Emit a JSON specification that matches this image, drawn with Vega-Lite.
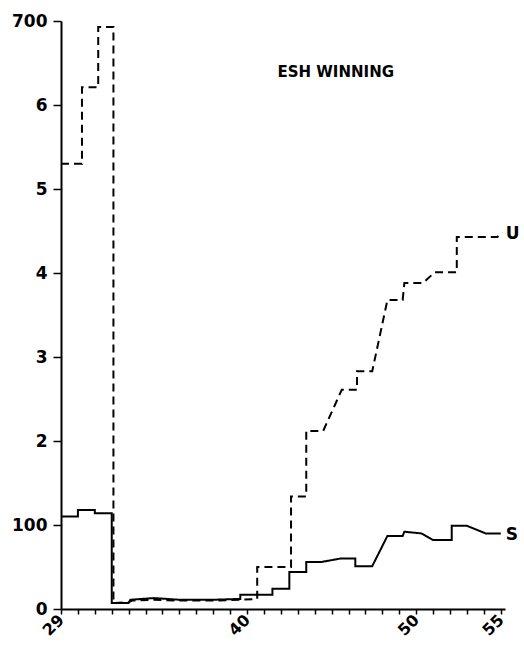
{
  "$schema": "https://vega.github.io/schema/vega-lite/v6.json",
  "width": 444,
  "height": 588,
  "autosize": {"type": "none"},
  "padding": {"left": 61, "top": 21, "right": 19, "bottom": 39},
  "background": "white",
  "config": {"view": {"stroke": null}},
  "datasets": {
    "lines": [
      {"s": "S", "o": 1, "x": 29, "y": 110},
      {"s": "S", "o": 2, "x": 30, "y": 110},
      {"s": "S", "o": 3, "x": 30, "y": 118},
      {"s": "S", "o": 4, "x": 31, "y": 118},
      {"s": "S", "o": 5, "x": 31, "y": 114},
      {"s": "S", "o": 6, "x": 32, "y": 114},
      {"s": "S", "o": 7, "x": 32, "y": 7},
      {"s": "S", "o": 8, "x": 33, "y": 7},
      {"s": "S", "o": 9, "x": 33.1, "y": 11},
      {"s": "S", "o": 10, "x": 34.5, "y": 13},
      {"s": "S", "o": 11, "x": 36, "y": 11},
      {"s": "S", "o": 12, "x": 38, "y": 11},
      {"s": "S", "o": 13, "x": 39.6, "y": 12},
      {"s": "S", "o": 14, "x": 39.6, "y": 17},
      {"s": "S", "o": 15, "x": 41.5, "y": 17},
      {"s": "S", "o": 16, "x": 41.5, "y": 24},
      {"s": "S", "o": 17, "x": 42.5, "y": 24},
      {"s": "S", "o": 18, "x": 42.5, "y": 44},
      {"s": "S", "o": 19, "x": 43.5, "y": 44},
      {"s": "S", "o": 20, "x": 43.5, "y": 56},
      {"s": "S", "o": 21, "x": 44.4, "y": 56},
      {"s": "S", "o": 22, "x": 45.5, "y": 60},
      {"s": "S", "o": 23, "x": 46.4, "y": 60},
      {"s": "S", "o": 24, "x": 46.4, "y": 51},
      {"s": "S", "o": 25, "x": 47.4, "y": 51},
      {"s": "S", "o": 26, "x": 48.3, "y": 87},
      {"s": "S", "o": 27, "x": 49.2, "y": 87},
      {"s": "S", "o": 28, "x": 49.3, "y": 92},
      {"s": "S", "o": 29, "x": 50.3, "y": 90},
      {"s": "S", "o": 30, "x": 51, "y": 82},
      {"s": "S", "o": 31, "x": 52.1, "y": 82},
      {"s": "S", "o": 32, "x": 52.1, "y": 99},
      {"s": "S", "o": 33, "x": 53, "y": 99},
      {"s": "S", "o": 34, "x": 54.1, "y": 90},
      {"s": "S", "o": 35, "x": 55, "y": 90},
      {"s": "U", "o": 1, "x": 29, "y": 530},
      {"s": "U", "o": 2, "x": 30.24, "y": 530},
      {"s": "U", "o": 3, "x": 30.24, "y": 621},
      {"s": "U", "o": 4, "x": 31.2, "y": 621},
      {"s": "U", "o": 5, "x": 31.2, "y": 693},
      {"s": "U", "o": 6, "x": 32.1, "y": 693},
      {"s": "U", "o": 7, "x": 32.1, "y": 7},
      {"s": "U", "o": 8, "x": 33, "y": 8},
      {"s": "U", "o": 9, "x": 33.2, "y": 10},
      {"s": "U", "o": 10, "x": 34.5, "y": 11},
      {"s": "U", "o": 11, "x": 36, "y": 10},
      {"s": "U", "o": 12, "x": 38, "y": 10},
      {"s": "U", "o": 13, "x": 39.6, "y": 11},
      {"s": "U", "o": 14, "x": 40.6, "y": 12},
      {"s": "U", "o": 15, "x": 40.6, "y": 50},
      {"s": "U", "o": 16, "x": 42.6, "y": 50},
      {"s": "U", "o": 17, "x": 42.6, "y": 134},
      {"s": "U", "o": 18, "x": 43.5, "y": 134},
      {"s": "U", "o": 19, "x": 43.5, "y": 212},
      {"s": "U", "o": 20, "x": 44.5, "y": 212},
      {"s": "U", "o": 21, "x": 45.6, "y": 261},
      {"s": "U", "o": 22, "x": 46.5, "y": 261},
      {"s": "U", "o": 23, "x": 46.5, "y": 283},
      {"s": "U", "o": 24, "x": 47.4, "y": 283},
      {"s": "U", "o": 25, "x": 48.3, "y": 368},
      {"s": "U", "o": 26, "x": 49.2, "y": 368},
      {"s": "U", "o": 27, "x": 49.3, "y": 388},
      {"s": "U", "o": 28, "x": 50.4, "y": 388},
      {"s": "U", "o": 29, "x": 51.1, "y": 401},
      {"s": "U", "o": 30, "x": 52.4, "y": 401},
      {"s": "U", "o": 31, "x": 52.4, "y": 443},
      {"s": "U", "o": 32, "x": 54.8, "y": 443},
      {"s": "U", "o": 33, "x": 55.1, "y": 448}
    ],
    "labels": [
      {"t": "ESH WINNING", "x": 41.8, "y": 639, "size": 15},
      {"t": "U", "x": 55.3, "y": 447, "size": 17},
      {"t": "S", "x": 55.3, "y": 88, "size": 17}
    ]
  },
  "layer": [
    {
      "data": {"name": "lines"},
      "mark": {"type": "line", "strokeWidth": 2, "color": "black", "clip": false},
      "encoding": {
        "x": {
          "field": "x", "type": "quantitative",
          "scale": {"domain": [29, 55.25], "nice": false, "zero": false},
          "axis": {
            "title": null, "grid": false,
            "values": [29,30,31,32,33,34,35,36,37,38,39,40,41,42,43,44,45,46,47,48,49,50,51,52,53,54,55],
            "tickCount": 40,
            "labelExpr": "datum.value == 29 || datum.value == 40 || datum.value == 50 || datum.value == 55 ? '' + datum.value : ''",
            "labelAngle": -45, "labelAlign": "right", "labelBaseline": "middle",
            "labelFont": "DejaVu Sans", "labelFontWeight": "bold", "labelFontSize": 16,
            "labelColor": "black", "labelPadding": 3,
            "domainColor": "black", "domainWidth": 2,
            "tickColor": "black", "tickWidth": 1.5, "tickSize": 5,
            "labelOverlap": false
          }
        },
        "y": {
          "field": "y", "type": "quantitative",
          "scale": {"domain": [0, 700], "nice": false},
          "axis": {
            "title": null, "grid": false,
            "values": [0,100,200,300,400,500,600,700],
            "labelExpr": "datum.value == 0 ? '0' : datum.value == 100 ? '100' : datum.value == 700 ? '700' : '' + (datum.value / 100)",
            "labelFont": "DejaVu Sans", "labelFontWeight": "bold", "labelFontSize": 17,
            "labelColor": "black", "labelPadding": 6,
            "domainColor": "black", "domainWidth": 2,
            "tickColor": "black", "tickWidth": 1.5, "tickSize": 8
          }
        },
        "detail": {"field": "s"},
        "order": {"field": "o", "type": "quantitative"},
        "strokeDash": {
          "field": "s", "type": "nominal",
          "scale": {"domain": ["S", "U"], "range": [[1, 0], [8, 5]]},
          "legend": null
        }
      }
    },
    {
      "data": {"name": "labels"},
      "mark": {"type": "text", "align": "left", "baseline": "middle", "font": "DejaVu Sans", "fontWeight": "bold", "color": "black", "clip": false},
      "encoding": {
        "x": {"field": "x", "type": "quantitative"},
        "y": {"field": "y", "type": "quantitative"},
        "text": {"field": "t"},
        "size": {"field": "size", "type": "quantitative", "scale": null}
      }
    }
  ]
}
